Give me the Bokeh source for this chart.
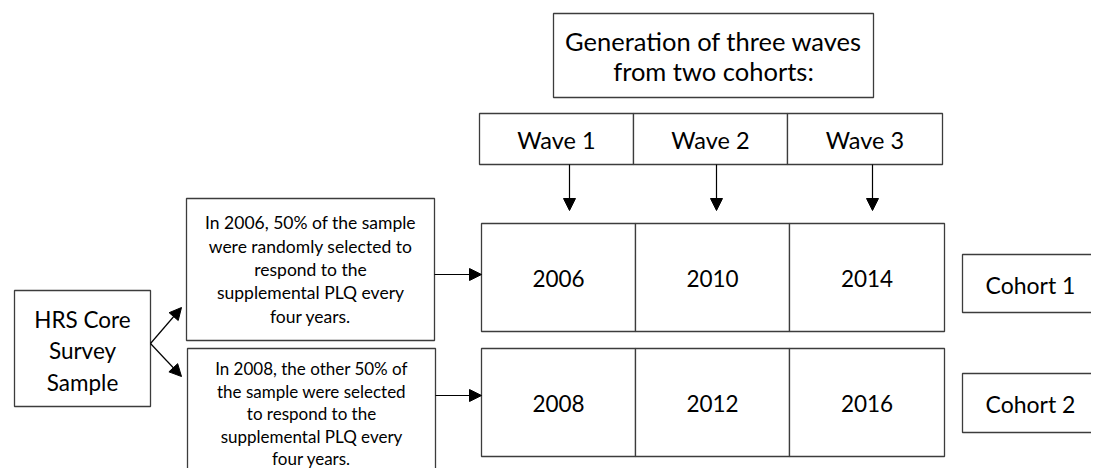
from bokeh.plotting import figure
from bokeh.models import Range1d, Arrow, NormalHead
from bokeh.core.properties import value
from bokeh.embed import file_html
from bokeh.resources import INLINE

# ---- data ----
title_lines = ["Generation of three waves", "from two cohorts:"]
waves = ["Wave 1", "Wave 2", "Wave 3"]
cohorts = ["Cohort 1", "Cohort 2"]
cohort1_years = ["2006", "2010", "2014"]
cohort2_years = ["2008", "2012", "2016"]
source_lines = ["HRS Core", "Survey", "Sample"]
cohort1_desc = ["In 2006, 50% of the sample", "were randomly selected to",
                "respond to the", "supplemental PLQ every", "four years."]
cohort2_desc = ["In 2008, the other 50% of", "the sample were selected",
                "to respond to the", "supplemental PLQ every", "four years."]

W, H = 1091, 468
FONT = "Lato"
EDGE = "#3c3c3c"

p = figure(width=W, height=H, output_backend="svg", toolbar_location=None,
           x_range=Range1d(0, W), y_range=Range1d(H, 0))
p.axis.visible = False
p.grid.visible = False
p.outline_line_color = None
p.min_border = 0
p.background_fill_color = "white"
p.border_fill_color = "white"


def box(l, t, r, b):
    p.quad(left=[l], right=[r], top=[t], bottom=[b],
           fill_color="white", line_color=EDGE, line_width=1.3)


def lines(texts, cx, cy, size, spacing):
    n = len(texts)
    ys = [cy + (i - (n - 1) / 2) * spacing for i in range(n)]
    p.text(x=[cx] * n, y=ys, text=texts, text_align="center",
           text_baseline="middle", text_font=value(FONT),
           text_font_size=f"{size}px", text_color="black")


def arrow(x0, y0, x1, y1):
    p.add_layout(Arrow(end=NormalHead(size=12, fill_color="black", line_color="black"),
                       x_start=x0, y_start=y0, x_end=x1, y_end=y1,
                       line_color="black", line_width=1.2))


# title
box(553, 13, 873, 97)
lines(title_lines, 713, 55, 25.5, 30)

# waves
wx = [479, 633, 787, 942]
for i, w in enumerate(waves):
    box(wx[i], 113, wx[i + 1], 164)
    lines([w], (wx[i] + wx[i + 1]) / 2, 139, 23.5, 0)
    cx = [569, 716, 872][i]
    arrow(cx, 164, cx, 210)

# year grid
gx = [481, 635, 789, 944]
rows = [(223, 331, cohort1_years), (348, 456, cohort2_years)]
for (t, b, yrs) in rows:
    for i, yv in enumerate(yrs):
        box(gx[i], t, gx[i + 1], b)
        lines([yv], (gx[i] + gx[i + 1]) / 2, (t + b) / 2 + 1, 22.5, 0)

# cohort labels
for (t, b), c in zip([(254, 312), (373, 432)], cohorts):
    box(962, t, 1120, b)
    lines([c], 1030, (t + b) / 2 + 1, 23, 0)

# source box
box(14, 290, 150, 406)
lines(source_lines, 82, 350, 22.5, 31.5)
arrow(150, 343, 181, 307)
arrow(150, 343, 181, 376)

# descriptions
box(186, 198, 434, 340)
lines(cohort1_desc, 310, 269, 17.5, 23.3)
box(187, 348, 435, 500)
lines(cohort2_desc, 311, 413, 17, 22.5)
arrow(434, 274, 481, 274)
arrow(435, 395, 481, 395)

open("out.html", "w").write(file_html(p, INLINE))
